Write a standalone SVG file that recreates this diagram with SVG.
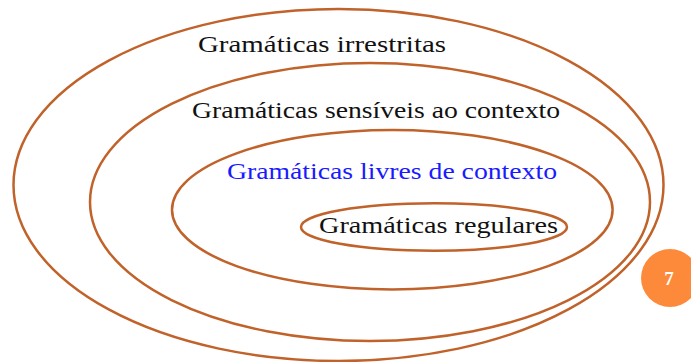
<svg xmlns="http://www.w3.org/2000/svg" width="691" height="362" viewBox="0 0 691 362">
<style>
.ring{fill:none;stroke:#c0622a;stroke-width:2.5}
.lbl{font-size:24px;fill:#111}
.num{font-size:19px;font-weight:bold;fill:#fff}
</style>
<rect width="691" height="362" fill="#fff"/>
<g id="irrestritas">
<ellipse class="ring" cx="338.5" cy="185" rx="325" ry="176"/>
<text class="lbl" font-family="'Liberation Serif', 'Times New Roman', 'DejaVu Serif', serif" x="198" y="52" textLength="248" lengthAdjust="spacingAndGlyphs">Gramáticas irrestritas</text>
</g>
<g id="sensiveis">
<ellipse class="ring" cx="370" cy="202" rx="280" ry="139"/>
<text class="lbl" font-family="'Liberation Serif', 'Times New Roman', 'DejaVu Serif', serif" x="192" y="117.5" textLength="368" lengthAdjust="spacingAndGlyphs">Gramáticas sensíveis ao contexto</text>
</g>
<g id="livres">
<ellipse class="ring" cx="392.3" cy="209.7" rx="220.3" ry="79.7"/>
<text class="lbl" font-family="'Liberation Serif', 'Times New Roman', 'DejaVu Serif', serif" x="227" y="179" textLength="330" lengthAdjust="spacingAndGlyphs" style="fill:#1a1aff">Gramáticas livres de contexto</text>
</g>
<g id="regulares">
<ellipse class="ring" cx="434" cy="227" rx="133" ry="23.7"/>
<text class="lbl" font-family="'Liberation Serif', 'Times New Roman', 'DejaVu Serif', serif" x="319" y="232.5" textLength="239" lengthAdjust="spacingAndGlyphs">Gramáticas regulares</text>
</g>
<g id="page-number">
<circle cx="670" cy="278" r="29" fill="#fd8a3a"/>
<text class="num" font-family="'Liberation Serif', 'Times New Roman', 'DejaVu Serif', serif" x="669" y="285" text-anchor="middle">7</text>
</g>
<g id="connectors"/>
</svg>
